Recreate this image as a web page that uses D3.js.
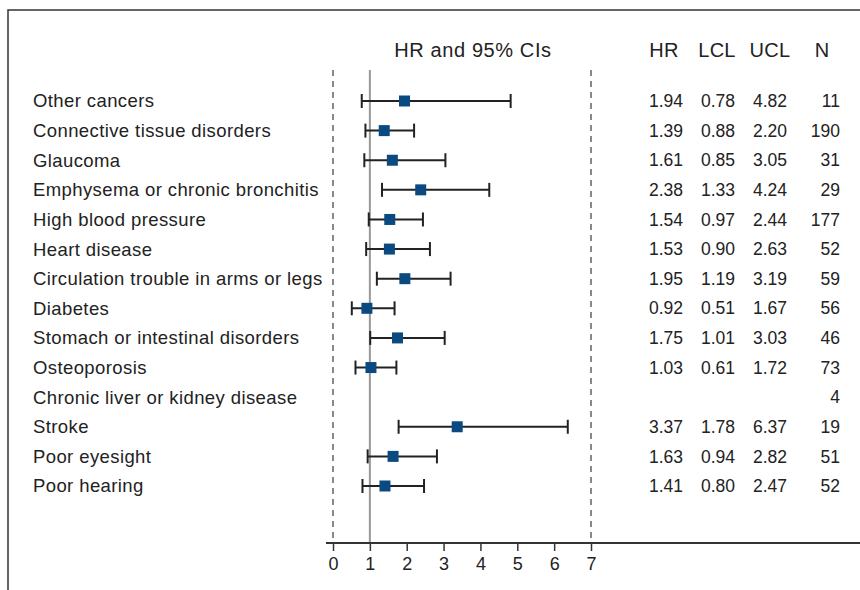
<!DOCTYPE html>
<html><head><meta charset="utf-8">
<script src="https://cdn.jsdelivr.net/npm/d3@7"></script>
<style>body{margin:0;background:#fff}svg{display:block}text{font-family:"Liberation Sans",Arial,sans-serif;fill:#222}</style>
</head><body>
<script>
const categories = ["Other cancers","Connective tissue disorders","Glaucoma","Emphysema or chronic bronchitis","High blood pressure","Heart disease","Circulation trouble in arms or legs","Diabetes","Stomach or intestinal disorders","Osteoporosis","Chronic liver or kidney disease","Stroke","Poor eyesight","Poor hearing"];
const hr  = [1.94,1.39,1.61,2.38,1.54,1.53,1.95,0.92,1.75,1.03,null,3.37,1.63,1.41];
const lcl = [0.78,0.88,0.85,1.33,0.97,0.90,1.19,0.51,1.01,0.61,null,1.78,0.94,0.80];
const ucl = [4.82,2.20,3.05,4.24,2.44,2.63,3.19,1.67,3.03,1.72,null,6.37,2.82,2.47];
const nVals = [11,190,31,29,177,52,59,56,46,73,4,19,51,52];
const xTicks = [0,1,2,3,4,5,6,7];

const W=860,H=590;
const svg=d3.select("body").append("svg").attr("width",W).attr("height",H);
const x=d3.scaleLinear().domain([0,7]).range([333,591]);
const y=d3.scalePoint().domain(categories).range([101,486]);
const axisY=543, topY=70;

// frame
svg.append("path").attr("d",`M8,${H}V10H${W}`).attr("fill","none").attr("stroke","#333").attr("stroke-width",1.5);

// reference lines
[0,7].forEach(v=>svg.append("line").attr("x1",x(v)).attr("x2",x(v)).attr("y1",topY).attr("y2",axisY)
  .attr("stroke","#888").attr("stroke-width",2).attr("stroke-dasharray","6,5"));
svg.append("line").attr("x1",x(1)).attr("x2",x(1)).attr("y1",topY).attr("y2",axisY).attr("stroke","#999").attr("stroke-width",2);

// axis
const ax=svg.append("g").attr("transform",`translate(0,${axisY})`)
  .call(d3.axisBottom(x).tickValues(xTicks).tickFormat(d3.format("d")).tickSize(8).tickPadding(6));
ax.select(".domain").remove();
ax.selectAll(".tick line").attr("stroke","#333").attr("stroke-width",1.5);
ax.selectAll(".tick text").attr("font-size",18).attr("fill","#222").attr("font-family","Liberation Sans, Arial, sans-serif");
svg.append("line").attr("x1",326).attr("x2",W).attr("y1",axisY).attr("y2",axisY).attr("stroke","#333").attr("stroke-width",2);

// labels
svg.selectAll(".lab").data(categories).join("text").attr("class","lab")
  .attr("x",33).attr("y",d=>y(d)).attr("dy","0.35em").attr("font-size",18.5).attr("letter-spacing",0.4).text(d=>d);

// error bars
const rows=categories.map((c,i)=>({c,hr:hr[i],l:lcl[i],u:ucl[i],n:nVals[i]}));
const vr=rows.filter(r=>r.hr!=null);
const g=svg.append("g");
g.selectAll(".ci").data(vr).join("line").attr("x1",d=>x(d.l)).attr("x2",d=>x(d.u)).attr("y1",d=>y(d.c)).attr("y2",d=>y(d.c)).attr("stroke","#222").attr("stroke-width",2);
["l","u"].forEach(k=>g.selectAll(".cap"+k).data(vr).join("line").attr("x1",d=>x(d[k])).attr("x2",d=>x(d[k])).attr("y1",d=>y(d.c)-7).attr("y2",d=>y(d.c)+7).attr("stroke","#222").attr("stroke-width",2));
g.selectAll(".pt").data(vr).join("rect").attr("x",d=>x(d.hr)-5.5).attr("y",d=>y(d.c)-5.5).attr("width",11).attr("height",11).attr("fill","#0b4a80");

// headers
svg.append("text").attr("x",473).attr("y",57).attr("text-anchor","middle").attr("font-size",20).attr("letter-spacing",0.6).text("HR and 95% CIs");
const cols=[{h:"HR",hx:664,rx:683,k:"hr",f:d3.format(".2f")},{h:"LCL",hx:717,rx:735,k:"l",f:d3.format(".2f")},{h:"UCL",hx:770,rx:787,k:"u",f:d3.format(".2f")},{h:"N",hx:822,rx:840,k:"n",f:d3.format("d")}];
cols.forEach(c=>{
  svg.append("text").attr("x",c.hx).attr("y",57).attr("text-anchor","middle").attr("font-size",20).attr("letter-spacing",0.3).text(c.h);
  svg.selectAll(".col"+c.k).data(rows).join("text").attr("x",c.rx).attr("y",d=>y(d.c)).attr("dy","0.35em").attr("text-anchor","end").attr("font-size",17.5)
    .text(d=>d[c.k]==null?"":c.f(d[c.k]));
});
</script>
</body></html>
